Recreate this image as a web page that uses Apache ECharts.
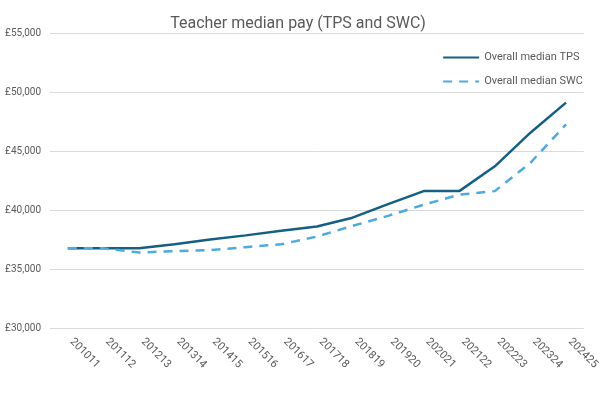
<!DOCTYPE html>
<html lang="en">
<head>
	<meta charset="UTF-8">
	<title>Teacher median pay</title>
	<script src="https://cdn.jsdelivr.net/npm/echarts@6/dist/echarts.min.js"></script>
	<style>
		html, body { margin: 0; padding: 0; background: #fff; }
		#main { width: 602px; height: 398px; }
	</style>
</head>
<body>
	<div id="main"></div>
	<script>
		// academic years (e.g. 201011 = 2010/11)
		const years = ['201011', '201112', '201213', '201314', '201415', '201516', '201617', '201718',
			'201819', '201920', '202021', '202122', '202223', '202324', '202425'];
		const tps = [36750, 36750, 36750, 37100, 37500, 37850, 38250, 38600, 39350, 40500, 41600, 41600, 43700, 46550, 49100];
		const swc = [36750, 36750, 36400, 36520, 36600, 36850, 37100, 37750, 38650, 39500, 40450, 41300, 41600, 44000, 47250];
		const yTicks = { min: 30000, max: 55000, step: 5000 };

		const grey = '#595959';
		const chart = echarts.init(document.getElementById('main'));

		chart.setOption({
			animation: false,
			textStyle: { fontFamily: 'Roboto, sans-serif' },
			title: {
				text: 'Teacher median pay (TPS and SWC)',
				left: 293,
				textAlign: 'center',
				top: 11,
				textStyle: { fontSize: 16, fontWeight: 'normal', color: grey }
			},
			legend: {
				orient: 'vertical',
				right: 14,
				top: 47,
				itemWidth: 36,
				itemHeight: 10,
				itemGap: 13,
				itemStyle: { opacity: 0 },
				textStyle: { fontSize: 11, color: grey },
				data: ['Overall median TPS', 'Overall median SWC']
			},
			grid: { left: 50, right: 14, top: 33, bottom: 70 },
			xAxis: {
				type: 'category',
				data: years,
				boundaryGap: true,
				axisLine: { show: false },
				axisTick: { show: false },
				axisLabel: {
					rotate: -45, color: grey, fontSize: 11, margin: 16,
					verticalAlign: 'bottom', interval: 0
				}
			},
			yAxis: {
				type: 'value',
				min: yTicks.min,
				max: yTicks.max,
				interval: yTicks.step,
				axisLine: { show: false },
				axisTick: { show: false },
				splitLine: { lineStyle: { color: '#D9D9D9', width: 1 } },
				axisLabel: {
					color: grey,
					fontSize: 10,
					margin: 9,
					formatter: v => '£' + v.toLocaleString('en-GB')
				}
			},
			series: [
				{
					name: 'Overall median TPS',
					type: 'line',
					data: tps,
					symbol: 'none',
					color: '#156082',
					lineStyle: { width: 2.5, color: '#156082' }
				},
				{
					name: 'Overall median SWC',
					type: 'line',
					data: swc,
					symbol: 'none',
					color: '#4EA9DD',
					lineStyle: { width: 2.5, color: '#4EA9DD', type: [9, 7] }
				}
			]
		});
	</script>
</body>
</html>
